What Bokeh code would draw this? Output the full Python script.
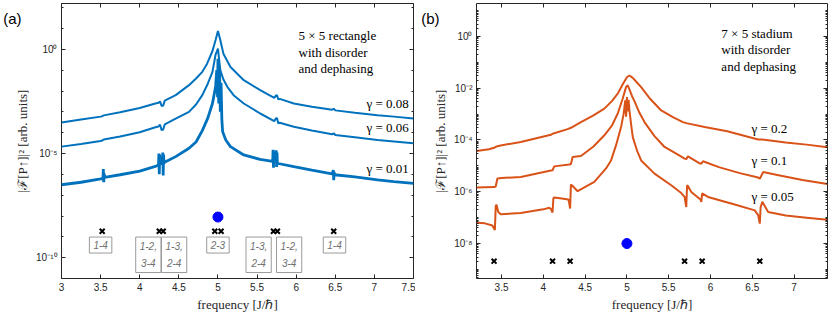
from bokeh.plotting import figure
from bokeh.layouts import row
from bokeh.models import (Range1d, FixedTicker, LinearAxis, LogAxis, Label,
                          CustomJSTickFormatter)
from bokeh.embed import file_html
from bokeh.resources import INLINE

# ---------------- panel (a): 5x5 rectangle ----------------
A_XTICKS = [3, 3.5, 4, 4.5, 5, 5.5, 6, 6.5, 7, 7.5]
A_XTICK_LABELS = ["3", "3.5", "4", "4.5", "5", "5.5", "6", "6.5", "7", "7.5"]
A_YTICKS = [1e-10, 1e-5, 1e0]
A_YTICK_LABELS = ["10\u207b\u00b9\u2070", "10\u207b\u2075", "10\u2070"]

# gamma = 0.08 (log10 of |F[P]|^2)
a08_x = [3.00, 3.25, 3.50, 3.52, 3.54, 3.75, 4.00, 4.20, 4.24, 4.26, 4.28, 4.30, 4.32,
         4.46, 4.63, 4.72, 4.80, 4.86, 4.93, 4.97, 5.00, 5.03, 5.07, 5.16, 5.33, 5.54,
         5.72, 5.74, 5.755, 5.77, 5.79, 5.97, 6.20, 6.46, 6.48, 6.50, 6.75, 7.04, 7.25, 7.50]
a08_log = [-3.51, -3.37, -3.23, -3.21, -3.17, -3.02, -2.82, -2.60, -2.56, -2.50, -2.72, -2.70, -2.46,
           -2.20, -1.72, -1.40, -1.08, -0.70, -0.08, 0.45, 0.88, 0.45, -0.21, -0.85, -1.48, -1.96,
           -2.33, -2.22, -2.20, -2.40, -2.38, -2.60, -2.76, -2.90, -2.85, -2.93, -3.04, -3.16, -3.23, -3.32]

# gamma = 0.06
a06_x = [3.00, 3.25, 3.50, 3.52, 3.54, 3.75, 4.00, 4.20, 4.24, 4.26, 4.28, 4.30, 4.32,
         4.46, 4.63, 4.72, 4.80, 4.87, 4.93, 4.97, 5.00, 5.03, 5.07, 5.12, 5.20, 5.33, 5.54,
         5.72, 5.74, 5.755, 5.77, 5.79, 5.97, 6.20, 6.46, 6.48, 6.50, 6.75, 7.04, 7.25, 7.50]
a06_log = [-4.67, -4.54, -4.40, -4.38, -4.33, -4.18, -3.98, -3.74, -3.70, -3.62, -3.88, -3.85, -3.60,
           -3.33, -3.00, -2.65, -2.20, -1.65, -1.08, -0.25, 0.03, -1.00, -1.45, -1.80, -2.20, -2.60, -3.08,
           -3.45, -3.32, -3.30, -3.55, -3.52, -3.72, -3.90, -4.08, -4.03, -4.11, -4.22, -4.35, -4.42, -4.51]

# gamma = 0.01
a01_x = [3.00, 3.25, 3.50, 3.53, 3.535, 3.54, 3.545, 3.55, 3.75, 4.00, 4.20, 4.24, 4.245, 4.25,
         4.255, 4.26, 4.29, 4.295, 4.30, 4.305, 4.31, 4.33, 4.46, 4.63, 4.72, 4.80, 4.87, 4.93,
         4.97, 4.985, 4.995, 5.00, 5.01, 5.02, 5.03, 5.04, 5.05, 5.06, 5.10, 5.16, 5.33, 5.54,
         5.70, 5.705, 5.71, 5.715, 5.72, 5.745, 5.75, 5.755, 5.76, 5.77, 5.97, 6.20, 6.46,
         6.475, 6.48, 6.485, 6.49, 6.75, 7.04, 7.25, 7.50]
a01_log = [-6.50, -6.38, -6.22, -6.20, -5.75, -6.38, -5.95, -6.15, -6.02, -5.85, -5.62, -5.55, -5.00, -6.00,
           -5.05, -5.50, -5.45, -4.95, -6.05, -5.05, -5.45, -5.40, -5.15, -4.75, -4.45, -3.90, -3.30, -2.60,
           -1.80, -1.00, -2.30, -0.45, -2.60, -0.90, -3.00, -1.60, -3.40, -3.95, -4.35, -4.67, -5.07, -5.28,
           -5.38, -4.82, -5.68, -4.90, -5.42, -4.85, -5.65, -4.95, -5.50, -5.48, -5.63, -5.80, -5.98,
           -5.80, -6.28, -5.88, -6.02, -6.12, -6.27, -6.35, -6.43]

a_dot_x = [5.0]
a_dot_y = [10 ** -8.05]
a_cross_x = [3.52, 4.25, 4.30, 4.96, 5.04, 5.71, 5.76, 6.48]
a_cross_y = [10 ** -8.73] * 8
a_box_x = [3.50, 4.11, 4.44, 5.00, 5.52, 5.91, 6.49]
a_box_text = ["1-4", "1-2,\n3-4", "1-3,\n2-4", "2-3", "1-3,\n2-4", "1-2,\n3-4", "1-4"]

# ---------------- panel (b): 7x5 stadium ----------------
B_XTICKS = [3.5, 4, 4.5, 5, 5.5, 6, 6.5, 7]
B_XTICK_LABELS = ["3.5", "4", "4.5", "5", "5.5", "6", "6.5", "7"]
B_YTICKS = [1e-8, 1e-6, 1e-4, 1e-2, 1e0]
B_YTICK_LABELS = ["10\u207b\u2078", "10\u207b\u2076", "10\u207b\u2074", "10\u207b\u00b2", "10\u2070"]

b02_x = [3.20, 3.35, 3.41, 3.45, 3.49, 3.73, 4.09, 4.11, 4.29, 4.33, 4.45, 4.60, 4.73, 4.82, 4.89,
         4.95, 5.00, 5.03, 5.07, 5.12, 5.17, 5.28, 5.41, 5.55, 5.67, 5.71, 5.93, 6.20, 6.57, 6.62,
         6.90, 7.15, 7.40]
b02_log = [-4.43, -4.36, -4.30, -4.24, -4.21, -4.08, -3.80, -3.76, -3.58, -3.53, -3.31, -3.05, -2.79,
           -2.50, -2.21, -1.85, -1.58, -1.51, -1.60, -1.78, -1.96, -2.42, -2.86, -3.12, -3.31, -3.35,
           -3.50, -3.66, -3.98, -3.98, -4.10, -4.18, -4.28]

b01_x = [3.20, 3.30, 3.41, 3.43, 3.45, 3.50, 3.73, 4.09, 4.11, 4.13, 4.31, 4.33, 4.35, 4.45, 4.60,
         4.73, 4.82, 4.89, 4.95, 4.99, 5.01, 5.03, 5.06, 5.09, 5.15, 5.21, 5.33, 5.45, 5.60, 5.69,
         5.71, 5.73, 5.87, 5.89, 5.91, 6.10, 6.35, 6.57, 6.59, 6.63, 6.80, 7.10, 7.40]
b01_log = [-5.84, -5.83, -5.82, -5.80, -5.49, -5.47, -5.43, -5.18, -5.17, -5.02, -4.95, -4.93, -4.66,
           -4.62, -4.25, -3.82, -3.45, -2.98, -2.40, -1.95, -1.89, -2.05, -2.30, -2.50, -2.95, -3.31,
           -3.85, -4.27, -4.55, -4.72, -4.74, -4.63, -4.90, -4.92, -4.82, -5.05, -5.28, -5.45, -5.50,
           -5.24, -5.35, -5.55, -5.70]

b005_x = [3.20, 3.30, 3.39, 3.41, 3.42, 3.43, 3.44, 3.46, 3.49, 3.73, 4.00, 4.07, 4.09, 4.11, 4.12,
          4.13, 4.20, 4.30, 4.31, 4.32, 4.33, 4.35, 4.41, 4.61, 4.75, 4.81, 4.87, 4.93, 4.96, 4.98,
          4.99, 5.00, 5.01, 5.02, 5.03, 5.05, 5.07, 5.12, 5.17, 5.33, 5.53, 5.65, 5.69, 5.70, 5.71,
          5.72, 5.73, 5.77, 5.88, 5.89, 5.90, 5.91, 5.97, 6.30, 6.53, 6.57, 6.59, 6.60, 6.62, 6.69,
          6.90, 7.15, 7.40]
b005_log = [-7.20, -7.22, -7.30, -7.42, -7.48, -6.55, -6.50, -6.78, -6.87, -6.82, -6.68, -6.62, -6.66,
            -6.80, -6.25, -6.22, -6.25, -6.30, -6.45, -6.65, -5.72, -5.78, -5.98, -5.62, -5.10, -4.79,
            -4.20, -3.50, -3.00, -2.47, -3.10, -2.34, -2.90, -2.45, -2.86, -3.40, -3.89, -4.40, -4.79,
            -5.30, -5.75, -6.05, -6.20, -6.40, -6.59, -5.75, -5.78, -6.01, -6.30, -6.39, -6.07, -6.08,
            -6.20, -6.50, -6.72, -6.90, -7.23, -6.60, -6.39, -6.78, -6.92, -7.00, -7.08]

b_dot_x = [5.0]
b_dot_y = [1e-8]
b_cross_x = [3.41, 4.11, 4.32, 5.69, 5.90, 6.59]
b_cross_y = [10 ** -8.68] * 6

BLUE = "#0072BD"
ORANGE = "#D95319"
AXC = "#262626"
SANS = "Liberation Sans"
SERIF = "Liberation Serif"

XFMT = """
let best = 0, bd = Infinity;
for (let i = 0; i < pos.length; i++) {
  const d = Math.abs(pos[i] - tick);
  if (d < bd) { bd = d; best = i; }
}
return labs[best];
"""
YFMT = """
let best = 0, bd = Infinity;
for (let i = 0; i < pos.length; i++) {
  const d = Math.abs(Math.log10(pos[i]) - Math.log10(tick));
  if (d < bd) { bd = d; best = i; }
}
return labs[best];
"""
EMPTY = "return '';"


def style_axis(ax, ticker, fmt, labelled):
    ax.ticker = ticker
    ax.formatter = fmt
    ax.major_tick_in = 4
    ax.major_tick_out = 0
    ax.minor_tick_in = 2
    ax.minor_tick_out = 0
    ax.major_tick_line_color = AXC
    ax.minor_tick_line_color = AXC
    ax.axis_line_color = None
    ax.major_label_text_font = SANS
    ax.major_label_text_font_size = "10px"
    ax.major_label_text_color = AXC
    ax.major_label_standoff = 4 if labelled else 0


def make_panel(width, left, right, xr, yr, xt, xl, yt, yl, yminor, tag):
    p = figure(width=width, height=315, x_range=Range1d(*xr), y_range=Range1d(*yr),
               y_axis_type="log", output_backend="svg", toolbar_location=None,
               min_border_left=left, min_border_right=right, min_border_top=3,
               min_border_bottom=37)
    p.grid.visible = False
    p.outline_line_color = AXC
    p.outline_line_width = 1
    xtick = FixedTicker(ticks=xt, minor_ticks=[])
    ytick = FixedTicker(ticks=yt, minor_ticks=yminor)
    xf = CustomJSTickFormatter(args=dict(pos=xt, labs=xl), code=XFMT)
    yf = CustomJSTickFormatter(args=dict(pos=yt, labs=yl), code=YFMT)
    style_axis(p.xaxis[0], xtick, xf, True)
    style_axis(p.yaxis[0], ytick, yf, True)
    p.xaxis[0].axis_label = "frequency [J/\u210f]"
    p.yaxis[0].axis_label = "|\u2131[P\u2191]|\u00b2 [arb. units]"
    for ax in (p.xaxis[0], p.yaxis[0]):
        ax.axis_label_text_font = SERIF
        ax.axis_label_text_font_style = "normal"
        ax.axis_label_text_font_size = "13px"
        ax.axis_label_text_color = AXC
        ax.axis_label_standoff = 3
    top = LinearAxis()
    style_axis(top, FixedTicker(ticks=xt, minor_ticks=[]), CustomJSTickFormatter(code=EMPTY), False)
    p.add_layout(top, "above")
    rax = LogAxis()
    style_axis(rax, FixedTicker(ticks=yt, minor_ticks=yminor), CustomJSTickFormatter(code=EMPTY), False)
    p.add_layout(rax, "right")
    # panel tag "(a)"/"(b)" as the label of a tick-less outer axis, aligned to the top;
    # a leading blank line pushes the visible line below the frame's top edge
    tag_ax = LogAxis(ticker=FixedTicker(ticks=[], minor_ticks=[]),
                     formatter=CustomJSTickFormatter(code=EMPTY),
                     axis_label="\n" + tag, axis_label_orientation="horizontal",
                     axis_label_align="end", axis_label_text_line_height=1.75,
                     axis_label_standoff=-9, axis_label_text_font=SANS,
                     axis_label_text_font_size="15px", axis_label_text_font_style="normal",
                     axis_label_text_color="black", axis_line_color=None,
                     major_tick_line_color=None, minor_tick_line_color=None,
                     major_tick_in=0, major_tick_out=0, minor_tick_in=0, minor_tick_out=0,
                     major_label_standoff=0)
    p.add_layout(tag_ax, "left")
    return p


def lbl(p, x, y, text, size="13px", font=SERIF, align="left", baseline="middle", **kw):
    p.add_layout(Label(x=x, y=y, text=text, text_font=font, text_font_size=size,
                       text_align=align, text_baseline=baseline, text_color="black", **kw))


# ---- panel (a) ----
a_minor = [10.0 ** k for k in range(-11, 3) if k not in (-10, -5, 0)]
pa = make_panel(415, 61, 2, (3, 7.5), (10 ** -11, 10 ** 2.2), A_XTICKS, A_XTICK_LABELS,
                A_YTICKS, A_YTICK_LABELS, a_minor, "(a)")
pa.line(a08_x, [10 ** v for v in a08_log], line_color=BLUE, line_width=2)
pa.line(a06_x, [10 ** v for v in a06_log], line_color=BLUE, line_width=2)
pa.line(a01_x, [10 ** v for v in a01_log], line_color=BLUE, line_width=2.8)
pa.scatter(a_dot_x, a_dot_y, marker="circle", size=10, fill_color="blue", line_color="blue")
pa.scatter(a_cross_x, a_cross_y, marker="x", size=7, line_color="black", line_width=2)
for bx, bt in zip(a_box_x, a_box_text):
    pa.add_layout(Label(x=bx, y=10 ** -9.01, text=bt, text_font=SANS, text_font_size="10px",
                        text_font_style="italic", text_color="#707070", text_align="center",
                        text_baseline="top", text_line_height=1.5,
                        border_line_color="#9a9a9a", border_line_width=1,
                        background_fill_color="white", padding=4))
lbl(pa, 6.03, 10 ** 0.67, "5 \u00d7 5 rectangle")
lbl(pa, 6.03, 10 ** -0.13, "with disorder")
lbl(pa, 6.03, 10 ** -0.92, "and dephasing")
lbl(pa, 7.44, 10 ** -2.58, "\u03b3 = 0.08", align="right")
lbl(pa, 7.44, 10 ** -3.73, "\u03b3 = 0.06", align="right")
lbl(pa, 7.44, 10 ** -5.74, "\u03b3 = 0.01", align="right")

# ---- panel (b) ----
b_minor = [k * 10.0 ** e for e in range(-10, 2) for k in range(1, 10)
           if not (k == 1 and e in (-8, -6, -4, -2, 0))]
pb = make_panel(415, 61, 3, (3.2, 7.4), (10 ** -9.35, 10 ** 1.27), B_XTICKS, B_XTICK_LABELS,
                B_YTICKS, B_YTICK_LABELS, b_minor, "(b)")
pb.line(b02_x, [10 ** v for v in b02_log], line_color=ORANGE, line_width=2)
pb.line(b01_x, [10 ** v for v in b01_log], line_color=ORANGE, line_width=2)
pb.line(b005_x, [10 ** v for v in b005_log], line_color=ORANGE, line_width=2)
pb.scatter(b_dot_x, b_dot_y, marker="circle", size=10, fill_color="blue", line_color="blue")
pb.scatter(b_cross_x, b_cross_y, marker="x", size=7, line_color="black", line_width=2)
lbl(pb, 6.13, 10 ** 0.12, "7 \u00d7 5 stadium")
lbl(pb, 6.13, 10 ** -0.50, "with disorder")
lbl(pb, 6.13, 10 ** -1.16, "and dephasing")
lbl(pb, 6.49, 10 ** -3.55, "\u03b3 = 0.2")
lbl(pb, 6.49, 10 ** -4.79, "\u03b3 = 0.1")
lbl(pb, 6.49, 10 ** -6.18, "\u03b3 = 0.05")

layout = row(pa, pb, spacing=0)
open("out.html", "w").write(file_html(layout, INLINE))
